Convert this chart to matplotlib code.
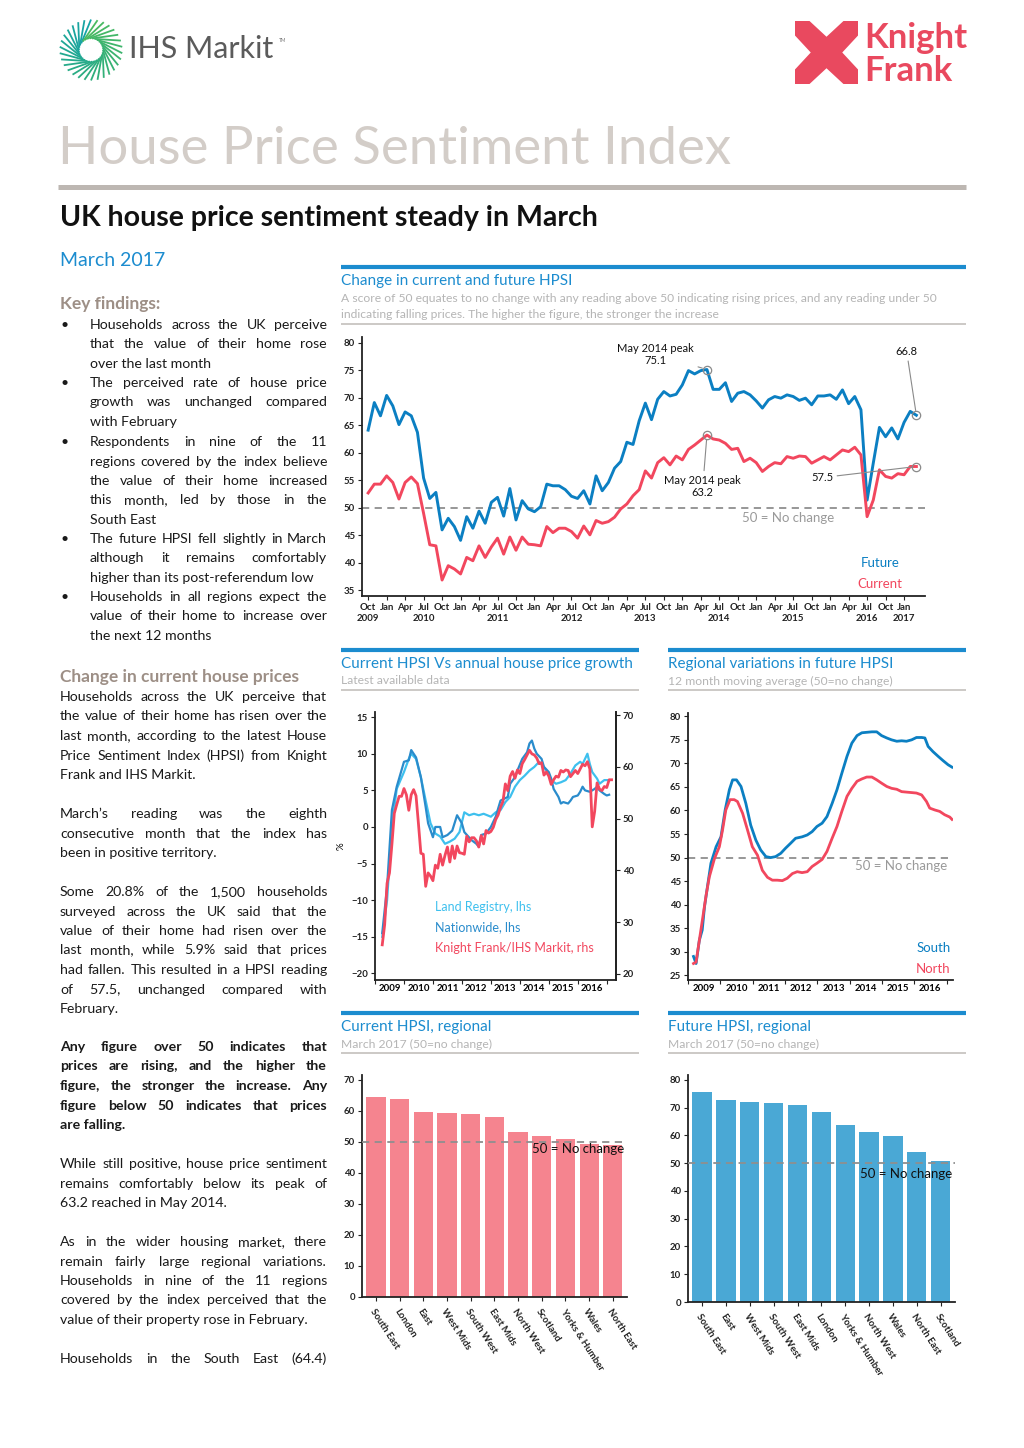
import numpy as np
import pandas as pd
import matplotlib
matplotlib.use("Agg")
import matplotlib.pyplot as plt
from matplotlib.lines import Line2D
from matplotlib.patches import Polygon, Rectangle

plt.rcParams['font.family'] = ['Lato', 'DejaVu Sans']

W, H = 1024, 1448

# ---------------- data ----------------
# monthly HPSI, Oct 2009 - Mar 2017
months_top = pd.date_range("2009-10-01", periods=90, freq="MS")
future_hpsi = [64.1, 69.1, 66.7, 70.4, 68.5, 65.1, 67.4, 66.7, 63.7, 55.4,
               51.7, 52.8, 46.0, 48.1, 46.6, 44.1, 48.4, 46.3, 49.4, 47.2,
               51.0, 51.9, 48.5, 53.5, 47.8, 51.3, 49.8, 49.3, 50.2, 54.3,
               54.0, 54.0, 53.3, 52.1, 51.7, 53.1, 50.7, 55.8, 53.1, 54.6,
               57.2, 58.4, 61.9, 61.5, 65.8, 69.0, 66.0, 69.7,
               71.1, 70.3, 70.6, 72.3, 74.9, 74.3, 74.9, 75.1, 71.5, 71.5,
               72.7, 69.3, 70.8, 71.1, 70.5, 69.4, 68.1, 69.6, 70.2, 69.9,
               70.5, 70.2, 69.5, 69.9, 68.7, 70.3, 70.3, 70.5, 69.7, 71.4,
               68.9, 70.2, 67.8, 51.4, 58.1, 64.6, 62.9, 64.5, 62.5, 65.5,
               67.5, 66.8]
current_hpsi = [52.7, 54.3, 54.3, 55.8, 54.6, 51.6, 54.6, 55.6, 54.4, 49.0,
                43.3, 43.1, 36.9, 39.5, 38.9, 38.0, 41.0, 40.4, 43.1, 41.0,
                42.9, 44.5, 41.6, 44.7, 42.3, 44.7, 43.4, 43.3, 43.1, 46.6,
                45.5, 46.3, 46.3, 45.7, 44.5, 46.7, 45.1, 47.7, 47.2, 47.5,
                48.3, 49.8, 50.7, 52.2, 53.3, 56.7, 55.4, 58.2,
                59.1, 57.8, 59.4, 58.7, 60.6, 61.4, 62.3, 63.2, 62.5, 62.3,
                61.7, 60.6, 60.8, 58.4, 59.0, 58.2, 56.6, 57.5, 58.2, 58.0,
                59.3, 59.0, 59.4, 59.3, 58.1, 58.7, 59.3, 58.7, 59.6, 60.5,
                60.2, 61.0, 59.6, 48.4, 51.4, 56.9, 55.7, 55.4, 56.2, 56.0,
                57.5, 57.5]

# current HPSI before Oct 2009 (Apr - Sep 2009), shown on the growth chart
months_early = pd.date_range("2009-04-01", periods=6, freq="MS")
current_early = [25.6, 29.5, 37.5, 39.5, 45.0, 51.0]

# annual house price growth, %
nw_months = ["2009-04", "2009-06", "2009-08", "2009-10",
             "2010-01", "2010-03", "2010-04", "2010-06", "2010-08", "2010-10", "2010-11",
             "2011-01", "2011-02", "2011-04", "2011-05", "2011-07", "2011-09", "2011-11",
             "2012-01", "2012-02", "2012-05", "2012-07", "2012-08", "2012-09", "2012-11",
             "2013-01", "2013-03", "2013-05", "2013-08", "2013-09", "2013-11", "2013-12",
             "2014-02", "2014-04", "2014-05", "2014-06", "2014-07", "2014-08", "2014-10", "2014-11",
             "2015-01", "2015-02", "2015-03", "2015-05", "2015-06", "2015-07", "2015-09", "2015-10", "2015-11",
             "2016-01", "2016-02", "2016-03", "2016-04", "2016-06", "2016-08", "2016-09", "2016-10", "2016-12",
             "2017-01", "2017-02"]
nationwide = [-14.5, -8.2, 2.3, 5.5,
              8.9, 9.1, 10.5, 9.5, 6.8, 2.7, 0.5,
              -1.4, 0.0, 0.0, -1.4, -1.1, -0.5, 1.6,
              0.5, -0.7, -1.8, -2.3, -2.7, -1.1, -0.9,
              0.0, 1.4, 3.6, 4.1, 5.9, 6.8, 7.7,
              9.3, 10.2, 11.4, 11.8, 10.7, 10.0, 9.3, 8.2,
              7.5, 6.6, 5.2, 4.1, 3.2, 3.4, 3.2, 3.6, 4.1,
              4.3, 4.8, 5.5, 5.0, 4.8, 5.2, 5.5, 5.0, 4.5,
              4.3, 4.4]
lr_months = ["2009-04", "2009-06", "2009-08", "2009-10",
             "2010-01", "2010-03", "2010-04", "2010-06", "2010-08", "2010-10", "2010-12",
             "2011-02", "2011-04", "2011-06", "2011-08", "2011-10", "2011-12",
             "2012-02", "2012-04", "2012-06", "2012-08", "2012-10",
             "2013-01", "2013-03", "2013-05", "2013-07", "2013-09", "2013-11",
             "2014-01", "2014-03", "2014-05", "2014-07", "2014-09", "2014-10", "2014-12",
             "2015-02", "2015-04", "2015-06", "2015-08", "2015-10", "2015-12",
             "2016-02", "2016-03", "2016-05", "2016-06", "2016-07", "2016-09", "2016-10", "2016-12",
             "2017-02"]
land_registry = [-15.0, -10.0, 0.0, 5.2,
                 7.5, 9.3, 10.0, 9.3, 6.8, 3.6, 0.5,
                 -0.9, -1.3, -2.3, -2.0, -1.6, -0.7,
                 2.0, 1.6, 1.8, 1.6, 1.8,
                 1.4, 2.0, 2.3, 3.4, 4.1, 5.5,
                 6.4, 7.0, 7.7, 8.2, 8.9, 8.6, 7.7,
                 6.4, 5.9, 6.1, 6.4, 7.3, 8.4,
                 8.9, 8.6, 10.0, 8.6, 7.5, 6.6, 5.9, 6.4,
                 6.4]

# future HPSI, 12m moving average, by broad region (time in decimal years)
south_t = [2009.17, 2009.25, 2009.35, 2009.44, 2009.51, 2009.61, 2009.71, 2009.87,
           2010.02, 2010.15, 2010.28, 2010.38, 2010.50, 2010.64, 2010.79, 2010.94,
           2011.10, 2011.25, 2011.41, 2011.56, 2011.71, 2011.87,
           2012.02, 2012.17, 2012.33, 2012.53, 2012.69, 2012.84, 2012.99,
           2013.15, 2013.30, 2013.46, 2013.61, 2013.76, 2013.92,
           2014.07, 2014.23, 2014.38, 2014.53, 2014.69, 2014.84, 2014.99,
           2015.15, 2015.30, 2015.46, 2015.61, 2015.76, 2015.92,
           2016.07, 2016.23, 2016.33, 2016.43, 2016.58, 2016.74, 2016.89,
           2017.05, 2017.17]
south = [29.0, 27.5, 32.4, 34.6, 39.5, 44.2, 48.8, 52.3,
         54.4, 60.1, 64.4, 66.5, 66.5, 65.1, 61.5, 56.9,
         53.7, 51.6, 50.2, 50.0, 50.2, 50.9,
         52.0, 53.0, 54.1, 54.4, 54.8, 55.5, 56.6,
         57.3, 58.7, 61.5, 64.4, 67.9, 71.5,
         74.3, 75.9, 76.5, 76.6, 76.7, 76.7, 75.9,
         75.4, 75.0, 74.7, 74.8, 74.7, 75.0,
         75.5, 75.5, 75.4, 73.6, 72.5, 71.5, 70.6,
         69.7, 69.2]
north_t = [2009.17, 2009.25, 2009.35, 2009.46, 2009.56, 2009.66, 2009.82, 2009.97,
           2010.07, 2010.17, 2010.30, 2010.43, 2010.53, 2010.69, 2010.84, 2010.99,
           2011.15, 2011.30, 2011.46, 2011.61, 2011.76, 2011.92,
           2012.07, 2012.23, 2012.38, 2012.53, 2012.69, 2012.84, 2012.99,
           2013.15, 2013.30, 2013.46, 2013.61, 2013.76, 2013.92,
           2014.07, 2014.23, 2014.38, 2014.53, 2014.69, 2014.84, 2014.99,
           2015.15, 2015.30, 2015.46, 2015.61, 2015.76, 2015.92,
           2016.07, 2016.23, 2016.38, 2016.48, 2016.64, 2016.79, 2016.94,
           2017.10, 2017.17]
north = [27.5, 27.8, 32.4, 37.4, 42.0, 45.9, 49.8, 52.3,
         55.9, 60.1, 62.3, 62.3, 61.9, 59.4, 55.9, 52.3,
         50.5, 47.3, 45.8, 45.2, 45.2, 45.1,
         45.6, 46.6, 47.0, 46.8, 47.0, 48.1, 48.8,
         49.6, 51.3, 54.1, 56.6, 59.8, 63.0,
         64.7, 66.2, 66.7, 67.1, 67.1, 66.5, 65.8,
         65.1, 64.7, 64.5, 64.0, 63.9, 63.8,
         63.7, 63.3, 61.9, 60.5, 60.1, 59.8, 59.1,
         58.6, 58.1]

# March 2017 regional readings
current_regions = ["South East", "London", "East", "West Mids", "South West", "East Mids",
                   "North West", "Scotland", "Yorks & Humber", "Wales", "North East"]
current_regional = [64.4, 63.9, 59.6, 59.3, 59.0, 58.0, 53.2, 52.0, 50.9, 49.3, 48.9]
future_regions = ["South East", "East", "West Mids", "South West", "East Mids", "London",
                  "Yorks & Humber", "North West", "Wales", "North East", "Scotland"]
future_regional = [75.6, 72.8, 72.2, 71.6, 70.9, 68.5, 63.7, 61.4, 59.8, 54.1, 50.9]

# ---------------- styles ----------------
BLUE = "#0b7fc2"
RED = "#f2475e"
LIGHTBLUE = "#3ec0ee"
NWBLUE = "#2a8ccc"
HEAD_BLUE = "#1c8ccf"
SUB_GREY = "#b5b5b5"
BROWN = "#9d8f86"
DASH = "#8f8f8f"
TXT = "#1a1a1a"
KF_RED = "#e9495f"
TICK_SIZE = 6.9

fig = plt.figure(figsize=(W / 100, H / 100), dpi=100)
renderer = fig.canvas.get_renderer()


def fx(x):
    return x / W


def fy(y):
    return 1 - y / H


def put(x, y, s, **kw):
    kw.setdefault("va", "center")
    return fig.text(fx(x), fy(y), s, **kw)


def hline(x0, x1, y, color, lw):
    fig.add_artist(Line2D([fx(x0), fx(x1)], [fy(y), fy(y)], transform=fig.transFigure,
                          color=color, lw=lw, solid_capstyle="butt"))


def axes_at(l, t, r, b):
    return fig.add_axes([fx(l), fy(b), (r - l) / W, (b - t) / H])


def para(lines, x0, x1, y0, size=10.2, weight="normal", color=TXT, lh=19.5, justify_last=False):
    # justified block of text, one line at a time
    for k, line in enumerate(lines):
        y = y0 + k * lh
        words = line.split()
        if (k == len(lines) - 1 and not justify_last) or len(words) == 1:
            put(x0, y, line, fontsize=size, fontweight=weight, color=color)
            continue
        objs = [put(x0, y, w, fontsize=size, fontweight=weight, color=color) for w in words]
        widths = [o.get_window_extent(renderer).width for o in objs]
        gap = (x1 - x0 - sum(widths)) / (len(words) - 1)
        x = x0
        for o, wd in zip(objs, widths):
            o.set_x(fx(x))
            x += wd + gap


def style_axes(ax, right=False):
    for s in ["top", "right"]:
        ax.spines[s].set_visible(False)
    if right:
        ax.spines["right"].set_visible(True)
    for s in ["left", "bottom", "right"]:
        ax.spines[s].set_linewidth(1.3)
        ax.spines[s].set_color("#222222")
    ax.tick_params(labelsize=TICK_SIZE, length=3, width=0.8, colors="#222222", pad=2)
    for lab in ax.get_yticklabels() + ax.get_xticklabels():
        lab.set_fontweight("bold")
    ax.patch.set_alpha(0)


# ---------------- header ----------------
# IHS Markit mark
ax_ihs = axes_at(58, 18, 124, 82)
ax_ihs.set_xlim(-1.05, 1.05)
ax_ihs.set_ylim(-1.05, 1.05)
ax_ihs.axis("off")
n_strokes = 30
greens = plt.matplotlib.colors.LinearSegmentedColormap.from_list("g", ["#16a3a6", "#2fae7c", "#4cbb5e"])
for k in range(n_strokes):
    th = np.deg2rad(90 + 360 * k / n_strokes)
    th_in = th + np.deg2rad(55)
    ax_ihs.plot([0.38 * np.cos(th_in), np.cos(th)], [0.38 * np.sin(th_in), np.sin(th)],
                color=greens(k / n_strokes), lw=1.3, solid_capstyle="butt")
put(129, 49, "IHS Markit", fontsize=22, color="#5b5b5b")
put(279, 41, "TM", fontsize=3.5, color="#777777")

# Knight Frank mark
ax_kf = axes_at(795, 21, 858, 84)
ax_kf.set_xlim(0, 1)
ax_kf.set_ylim(0, 1)
ax_kf.axis("off")
ax_kf.add_patch(Rectangle((0, 0), 1, 1, color=KF_RED, lw=0))
for tri in [[(0.22, 1.01), (0.78, 1.01), (0.5, 0.75)],
            [(0.22, -0.01), (0.78, -0.01), (0.5, 0.25)],
            [(-0.01, 0.22), (-0.01, 0.78), (0.25, 0.5)],
            [(1.01, 0.22), (1.01, 0.78), (0.75, 0.5)]]:
    ax_kf.add_patch(Polygon(tri, closed=True, color="white", lw=0))
put(864, 38, "Knight", fontsize=25, fontweight="bold", color=KF_RED)
put(864, 71, "Frank", fontsize=25, fontweight="bold", color=KF_RED)

put(58, 150, "House Price Sentiment Index", fontsize=38, color="#d3cdc8")
hline(58, 966, 187, "#bdb7b2", 3.6)
put(60, 218, "UK house price sentiment steady in March", fontsize=20.5, fontweight="bold", color="#111111")
put(60, 260, "March 2017", fontsize=14, color=HEAD_BLUE)

# ---------------- left text column ----------------
put(60, 304, "Key findings:", fontsize=12.5, fontweight="bold", color=BROWN)
bullets = [
    (325, ["Households across the UK perceive", "that the value of their home rose", "over the last month"]),
    (383, ["The perceived rate of house price", "growth was unchanged compared", "with February"]),
    (442, ["Respondents in nine of the 11", "regions covered by the index believe",
           "the value of their home increased", "this month, led by those in the", "South East"]),
    (539, ["The future HPSI fell slightly in March", "although it remains comfortably",
           "higher than its post-referendum low"]),
    (597, ["Households in all regions expect the", "value of their home to increase over",
           "the next 12 months"]),
]
for y0, lines in bullets:
    put(60, y0, "\u2022", fontsize=10, color=TXT)
    para(lines, 90, 327, y0)

put(60, 677, "Change in current house prices", fontsize=12.5, fontweight="bold", color=BROWN)
para(["Households across the UK perceive that", "the value of their home has risen over the",
      "last month, according to the latest House", "Price Sentiment Index (HPSI) from Knight",
      "Frank and IHS Markit."], 60, 327, 697)
para(["March\u2019s reading was the eighth", "consecutive month that the index has",
      "been in positive territory."], 60, 327, 814)
para(["Some 20.8% of the 1,500 households", "surveyed across the UK said that the",
      "value of their home had risen over the", "last month, while 5.9% said that prices",
      "had fallen. This resulted in a HPSI reading", "of 57.5, unchanged compared with",
      "February."], 60, 327, 892)
para(["Any figure over 50 indicates that", "prices are rising, and the higher the",
      "figure, the stronger the increase. Any", "figure below 50 indicates that prices",
      "are falling."], 60, 327, 1047, weight="bold")
para(["While still positive, house price sentiment", "remains comfortably below its peak of",
      "63.2 reached in May 2014."], 60, 327, 1164)
para(["As in the wider housing market, there", "remain fairly large regional variations.",
      "Households in nine of the 11 regions", "covered by the index perceived that the",
      "value of their property rose in February."], 60, 327, 1242)
para(["Households in the South East (64.4)"], 60, 327, 1359, justify_last=True)


# ---------------- chart headers ----------------
def chart_header(x0, x1, y_rule, title, subtitle_lines, y_grey):
    hline(x0, x1, y_rule, HEAD_BLUE, 3.0)
    put(x0, y_rule + 14, title, fontsize=11, color=HEAD_BLUE)
    for k, s in enumerate(subtitle_lines):
        put(x0, y_rule + 31 + 17 * k, s, fontsize=8.7, color=SUB_GREY)
    hline(x0, x1, y_grey, "#c4c0bc", 1.2)


chart_header(341, 966, 267, "Change in current and future HPSI",
             ["A score of 50 equates to no change with any reading above 50 indicating rising prices, and any reading under 50",
              "indicating falling prices. The higher the figure, the stronger the increase"], 324)
chart_header(341, 639, 650, "Current HPSI Vs annual house price growth", ["Latest available data"], 690)
chart_header(668, 966, 650, "Regional variations in future HPSI", ["12 month moving average (50=no change)"], 690)
chart_header(341, 639, 1013, "Current HPSI, regional", ["March 2017 (50=no change)"], 1053)
chart_header(668, 966, 1013, "Future HPSI, regional", ["March 2017 (50=no change)"], 1053)

# ---------------- top chart ----------------
ax = axes_at(362, 337, 925, 596)
idx = np.arange(len(months_top))
ax.plot(idx, future_hpsi, color=BLUE, lw=2.1, zorder=3)
ax.plot(idx, current_hpsi, color=RED, lw=2.1, zorder=3)
ax.axhline(50, color=DASH, lw=1.3, ls=(0, (4, 3)), zorder=2)
ax.set_ylim(34, 81)
ax.set_xlim(-1, 90.4)
ax.set_yticks(range(35, 81, 5))
qtr = [i for i, m in enumerate(months_top) if m.month in (1, 4, 7, 10)]
labels = []
for i in qtr:
    m = months_top[i]
    lab = m.strftime("%b")
    if i == 0 or m.month == 7 or (m.year == 2017 and m.month == 1):
        lab += "\n" + str(m.year)
    labels.append(lab)
ax.set_xticks(qtr)
ax.set_xticklabels(labels, linespacing=1.3)
style_axes(ax)

i_peak = int(np.argmax(future_hpsi))
j_peak = int(np.argmax(current_hpsi))
last = len(months_top) - 1
ring = dict(marker="o", ms=6, mfc="none", mec="#8a8a8a", mew=0.9, ls="none", zorder=4)
ax.plot([i_peak, j_peak, last, last], [future_hpsi[i_peak], current_hpsi[j_peak], future_hpsi[last], current_hpsi[last]], **ring)
arr = dict(arrowstyle="-", color="#8a8a8a", lw=0.8, shrinkA=1, shrinkB=3.5)
ann = dict(textcoords="offset points", ha="center", va="center", fontsize=8, color="#111111",
           linespacing=1.15, arrowprops=arr)
ax.annotate("May 2014 peak\n%.1f" % future_hpsi[i_peak], xy=(i_peak, future_hpsi[i_peak]), xytext=(-37, 11), **ann)
ax.annotate("%.1f" % future_hpsi[last], xy=(last, future_hpsi[last]), xytext=(-7, 46), **ann)
ax.annotate("May 2014 peak\n%.1f" % current_hpsi[j_peak], xy=(j_peak, current_hpsi[j_peak]), xytext=(-3, -37), **ann)
ax.annotate("%.1f" % current_hpsi[last], xy=(last, current_hpsi[last]), xytext=(-68, -8), **ann)
ax.text(68.2, 48.2, "50 = No change", color="#9a9a9a", fontsize=9.5, ha="center", va="center")
ax.text(0.92, 0.127, "Future", color=BLUE, fontsize=9.5, ha="center", va="center", transform=ax.transAxes)
ax.text(0.92, 0.046, "Current", color=RED, fontsize=9.5, ha="center", va="center", transform=ax.transAxes)


# ---------------- middle left: HPSI vs house price growth ----------------
def dec_year(months):
    d = pd.to_datetime(pd.Series(months))
    return (d.dt.year + (d.dt.month - 1) / 12).values


def year_axis(ax, first, last):
    ax.set_xticks(np.arange(first, last + 2))
    ax.set_xticklabels([])
    ax.set_xticks(np.arange(first, last + 1) + 0.5, minor=True)
    ax.set_xticklabels([str(y) for y in range(first, last + 1)], minor=True)
    ax.tick_params(axis="x", which="minor", length=0, labelsize=TICK_SIZE, pad=3)
    for lab in ax.get_xticklabels(minor=True):
        lab.set_fontweight("bold")


axl = axes_at(375, 712, 616, 980)
axr = axl.twinx()
axl.plot(dec_year(lr_months), land_registry, color=LIGHTBLUE, lw=1.6, zorder=3)
axl.plot(dec_year(nw_months), nationwide, color=NWBLUE, lw=1.6, zorder=3)
hpsi_t = np.concatenate([dec_year(months_early.strftime("%Y-%m")), dec_year(months_top.strftime("%Y-%m"))])
axr.plot(hpsi_t, current_early + current_hpsi, color=RED, lw=2.0, zorder=2)
axl.set_ylim(-20.9, 15.7)
axr.set_ylim(18.8, 70.6)
axl.set_yticks(range(-20, 16, 5))
axr.set_yticks(range(20, 71, 10))
axl.set_xlim(2009.15, 2017.32)
style_axes(axl, right=True)
style_axes(axr, right=True)
axr.spines["left"].set_visible(False)
axr.spines["bottom"].set_visible(False)
year_axis(axl, 2009, 2016)
axl.set_ylabel("%", fontsize=7, labelpad=4)
axr.text(0.249, 0.272, "Land Registry, lhs", color=LIGHTBLUE, fontsize=9, transform=axl.transAxes, va="center")
axr.text(0.249, 0.198, "Nationwide, lhs", color=NWBLUE, fontsize=9, transform=axl.transAxes, va="center")
axr.text(0.249, 0.119, "Knight Frank/IHS Markit, rhs", color=RED, fontsize=9, transform=axl.transAxes, va="center")

# ---------------- middle right: regional future HPSI ----------------
axg = axes_at(688, 713, 953, 980)
axg.plot(south_t, south, color=BLUE, lw=2.0, zorder=3)
axg.plot(north_t, north, color=RED, lw=2.0, zorder=3)
axg.axhline(50, color=DASH, lw=1.3, ls=(0, (4, 3)), zorder=2)
axg.set_ylim(24.0, 80.7)
axg.set_yticks(range(25, 81, 5))
axg.set_xlim(2009.05, 2017.2)
style_axes(axg)
year_axis(axg, 2009, 2016)
axg.text(0.977, 48.2, "50 = No change", color="#9a9a9a", fontsize=9.5, ha="right", va="center",
         transform=axg.get_yaxis_transform())
axg.text(0.99, 0.12, "South", color=BLUE, fontsize=9.5, ha="right", va="center", transform=axg.transAxes)
axg.text(0.99, 0.041, "North", color=RED, fontsize=9.5, ha="right", va="center", transform=axg.transAxes)


# ---------------- bottom: regional bars ----------------
def bar_chart(rect, regions, vals, color, ymax, yticks, label_y):
    axb = axes_at(*rect)
    pos = np.arange(len(regions))
    axb.bar(pos, vals, width=0.81, color=color, zorder=2)
    axb.axhline(50, color=DASH, lw=1.3, ls=(0, (4, 3)), zorder=3)
    axb.set_xlim(-0.59, len(regions) - 0.4)
    axb.set_ylim(0, ymax)
    axb.set_yticks(yticks)
    axb.set_xticks(pos)
    axb.set_xticklabels(regions, rotation=-57, ha="left", va="top", rotation_mode="anchor")
    style_axes(axb)
    axb.tick_params(axis="x", pad=4)
    axb.text(0.99, label_y, "50 = No change", color="#111111", fontsize=9.5, ha="right", va="center",
             transform=axb.get_yaxis_transform(), zorder=4)
    return axb


bar_chart((362, 1075, 627, 1297), current_regions, current_regional, "#f5848f", 71.6, range(0, 71, 10), 47.8)
bar_chart((688, 1075, 955, 1302), future_regions, future_regional, "#4aa8d5", 81.8, range(0, 81, 10), 46.1)

fig.savefig("out.png", dpi=100)
